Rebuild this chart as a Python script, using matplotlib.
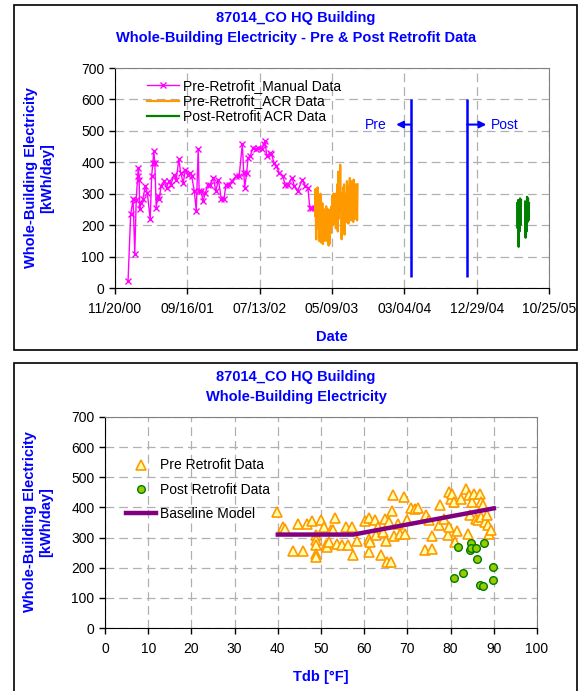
import numpy as np
import pandas as pd
import matplotlib
matplotlib.use('Agg')
import matplotlib.pyplot as plt
import matplotlib.dates as mdates
from matplotlib.patches import Rectangle

plt.rcParams['font.family'] = ['Liberation Sans', 'DejaVu Sans']

BLUE = '#0000FF'
W, H = 579, 691

start = pd.Timestamp('2000-11-20')

# pre-retrofit manual meter readings (days after 11/20/00, kWh/day)
manual_days = [54, 65, 75, 82, 88, 94, 97, 100, 103, 108, 115, 126, 134, 146, 152, 157,
               161, 165, 171, 177, 183, 191, 203, 214, 223, 232, 245, 254, 265, 272,
               283, 292, 303, 311, 318, 329, 337, 345, 349, 357, 365, 375, 385, 395,
               408, 418, 429, 441, 452, 460, 472, 484, 503, 515, 528, 534, 538, 546,
               552, 561, 572, 583, 595, 608, 617, 623, 629, 643, 649, 660, 669, 681,
               695, 706, 718, 734, 744, 757, 777, 789, 800, 808, 818, 834, 841, 854]
manual_kwh = [21, 234, 282, 109, 280, 356, 382, 345, 250, 271, 282, 324, 303, 218, 356, 398,
              435, 398, 255, 292, 282, 324, 340, 319, 340, 329, 361, 345, 411, 367,
              335, 377, 361, 367, 356, 308, 245, 441, 308, 308, 276, 303, 329, 329,
              351, 308, 345, 282, 282, 329, 329, 340, 356, 356, 457, 367, 319, 367,
              414, 420, 446, 441, 446, 441, 457, 467, 420, 430, 425, 398, 388, 367,
              356, 329, 329, 351, 324, 308, 345, 324, 319, 255, 255, 255, 239, 218]

# pre-retrofit ACR logger data, every other day from day 830
acr_pre_start = 830
acr_pre_kwh = [230, 315, 155, 300, 190, 320, 210,
               290, 150, 270, 175, 300, 145, 250,
               190, 270, 140, 230, 160, 250, 150, 220, 170, 260,
               150, 240, 180, 250, 135, 230, 140, 200, 250, 175, 260,
               210, 295, 200, 300, 225, 280, 205, 300, 190, 290,
               240, 330, 180, 370, 220, 355, 250, 392, 260,
               300, 155, 290, 210, 320, 200, 330, 170, 280, 230,
               300, 210, 340, 230, 310, 205, 325, 250, 350, 220, 300,
               215, 340, 250, 320, 210, 345, 240, 310, 220, 330, 240, 300, 215, 330]

# post-retrofit ACR logger data (two short logging periods)
acr_post_days = [1668, 1670, 1672, 1674, 1676, 1678, 1680, 1682, 1684, 1692,
                 1701, 1703, 1705, 1707, 1709, 1711, 1713, 1715, 1717]
acr_post_kwh = [270, 190, 280, 131, 265, 180, 285, 200, 280, np.nan,
                275, 160, 270, 180, 290, 210, 285, 215, 270]

pre_end = pd.Timestamp('2004-04-01')
post_start = pd.Timestamp('2004-11-20')

# scatter vs. dry-bulb temperature
pre_tdb = [39.7, 41.2, 41.6, 43.5, 44.6, 45.9, 46.8, 47.9, 48.9, 48.9, 48.9, 48.9, 48.9,
           50.0, 50.6, 51.1, 51.5, 51.8, 52.2, 52.8, 53.2, 53.6, 54.9, 55.8, 56.2, 57.1,
           57.3, 58.4, 60.1, 61.0, 61.0, 61.2, 61.4, 62.4, 62.7, 63.3, 64.0, 64.4, 64.8,
           65.0, 65.2, 65.7, 66.1, 66.4, 66.7, 66.9, 67.8, 68.2, 69.1, 69.5, 70.0, 70.8,
           71.8, 72.5, 74.1, 74.3, 75.1, 75.6, 75.8, 77.3, 77.5, 78.5, 79.4, 79.6, 79.6,
           80.1, 80.4, 80.9, 81.1, 81.5, 82.4, 83.5, 84.1, 84.3, 84.5, 85.0, 85.4, 85.8,
           86.3, 86.7, 87.0, 87.1, 87.6, 88.0, 88.5, 88.7, 88.8, 89.3]
pre_kwh = [385, 335, 330, 254, 344, 254, 344, 355, 307, 291, 274, 247, 236,
           357, 335, 274, 269, 285, 324, 324, 365, 280, 274, 335, 274, 335,
           243, 288, 354, 252, 296, 365, 285, 357, 307, 335, 243, 318, 363,
           288, 219, 352, 219, 387, 440, 305, 346, 313, 435, 313, 357, 398,
           394, 398, 258, 374, 357, 263, 305, 341, 409, 363, 307, 335, 451,
           427, 446, 418, 285, 321, 429, 462, 313, 440, 374, 418, 446, 363,
           357, 446, 418, 368, 407, 352, 374, 341, 313, 324]

post_tdb = [80.8, 81.6, 82.8, 84.4, 84.7, 84.7, 85.8, 86.0, 86.7, 87.6, 87.7, 89.9, 89.9]
post_kwh = [167, 270, 184, 259, 283, 265, 265, 228, 142, 139, 283, 202, 158]

base_tdb = [40, 57.5, 90]
base_kwh = [310, 310, 397]

date_ticks = [start + pd.Timedelta(days=300 * k) for k in range(7)]


def fig_rect(l, t, r, b):
    return [l / W, 1 - b / H, (r - l) / W, (b - t) / H]


def style_axes(ax):
    for s in ['top', 'right']:
        ax.spines[s].set_color('#808080')
    for s in ['left', 'bottom']:
        ax.spines[s].set_color('black')
    ax.grid(True, color='#B0B0B0', linestyle=(0, (7, 4)), linewidth=0.9)
    ax.set_axisbelow(True)
    ax.tick_params(direction='out', length=4, width=1, labelsize=10, colors='black')


fig = plt.figure(figsize=(W / 100, H / 100), dpi=100)

# panel frames
for (l, t, r, b) in [(14, 5, 577, 350), (14, 363, 577, 700)]:
    fig.patches.append(Rectangle((l / W, 1 - b / H), (r - l) / W, (b - t) / H,
                                 transform=fig.transFigure, fill=False,
                                 edgecolor='black', linewidth=1.2))

# ---- top: time series ----
ax1 = fig.add_axes(fig_rect(115, 68, 549, 288))
manual_dates = start + pd.to_timedelta(manual_days, unit='D')
acr_pre_dates = pd.date_range(start + pd.Timedelta(days=acr_pre_start),
                              periods=len(acr_pre_kwh), freq='2D')
acr_post_dates = start + pd.to_timedelta(acr_post_days, unit='D')

ax1.plot(manual_dates, manual_kwh, color='#FF00FF', marker='x', markersize=5,
         markeredgewidth=1, linewidth=1, label='Pre-Retrofit_Manual Data')
ax1.plot(acr_pre_dates, acr_pre_kwh, color='#FF9900', linewidth=1.6,
         label='Pre-Retrofit_ACR Data')
ax1.plot(acr_post_dates, acr_post_kwh, color='#008000', linewidth=1.6,
         label='Post-Retrofit ACR Data')

ax1.vlines([pre_end, post_start], 35, 600, color=BLUE, linewidth=1.8)
ax1.annotate('', xy=(pre_end - pd.Timedelta(days=62), 520), xytext=(pre_end, 520),
             arrowprops=dict(arrowstyle='-|>', color=BLUE, lw=1.5, mutation_scale=10,
                             shrinkA=0, shrinkB=0))
ax1.annotate('', xy=(post_start + pd.Timedelta(days=79), 520), xytext=(post_start, 520),
             arrowprops=dict(arrowstyle='-|>', color=BLUE, lw=1.5, mutation_scale=10,
                             shrinkA=0, shrinkB=0))
ax1.text(pre_end - pd.Timedelta(days=100), 520, 'Pre', color=BLUE, fontsize=10,
         ha='right', va='center')
ax1.text(post_start + pd.Timedelta(days=98), 520, 'Post', color=BLUE, fontsize=10,
         ha='left', va='center')

ax1.set_xlim(date_ticks[0], date_ticks[-1])
ax1.set_ylim(0, 700)
ax1.set_yticks(range(0, 701, 100))
ax1.set_xticks(date_ticks)
ax1.xaxis.set_major_formatter(mdates.DateFormatter('%m/%d/%y'))
style_axes(ax1)
ax1.tick_params(axis='x', pad=6)
ax1.set_xlabel('Date', color=BLUE, fontsize=10.5, fontweight='bold', labelpad=10)
ax1.legend(loc='upper left', bbox_to_anchor=(0.06, 0.975), frameon=False, fontsize=10,
           handlelength=2.3, handletextpad=0.3, labelspacing=0.1, borderaxespad=0)

fig.text(296 / W, 1 - 18 / H, '87014_CO HQ Building', color=BLUE, fontsize=10.5,
         fontweight='bold', ha='center', va='center')
fig.text(296 / W, 1 - 38 / H, 'Whole-Building Electricity - Pre & Post Retrofit Data',
         color=BLUE, fontsize=10.5, fontweight='bold', ha='center', va='center')
fig.text(39 / W, 1 - 178 / H, 'Whole-Building Electricity\n[kWh/day]', color=BLUE,
         fontsize=10.5, fontweight='bold', rotation=90, ha='center', va='center',
         multialignment='center', linespacing=1.25)

# ---- bottom: energy vs temperature ----
ax2 = fig.add_axes(fig_rect(105, 417, 537, 628))
ax2.plot(pre_tdb, pre_kwh, linestyle='none', marker='^', markersize=7.5,
         markerfacecolor='#FFFFB0', markeredgecolor='#FF9900', markeredgewidth=1.2,
         label='Pre Retrofit Data')
ax2.plot(post_tdb, post_kwh, linestyle='none', marker='o', markersize=5.5,
         markerfacecolor='#99CC00', markeredgecolor='#007A00', markeredgewidth=1,
         label='Post Retrofit Data')
ax2.plot(base_tdb, base_kwh, color='#800080', linewidth=3.2, label='Baseline Model')

ax2.set_xlim(0, 100)
ax2.set_ylim(0, 700)
ax2.set_xticks(range(0, 101, 10))
ax2.set_yticks(range(0, 701, 100))
style_axes(ax2)
ax2.tick_params(axis='x', pad=6)
ax2.set_xlabel('Tdb [°F]', color=BLUE, fontsize=10.5, fontweight='bold', labelpad=10)
ax2.legend(loc='upper left', bbox_to_anchor=(0.035, 0.83), frameon=False, fontsize=10,
           handlelength=2.2, handletextpad=0.3, labelspacing=0.75, borderaxespad=0)

fig.text(296 / W, 1 - 377 / H, '87014_CO HQ Building', color=BLUE, fontsize=10.5,
         fontweight='bold', ha='center', va='center')
fig.text(296 / W, 1 - 397 / H, 'Whole-Building Electricity', color=BLUE, fontsize=10.5,
         fontweight='bold', ha='center', va='center')
fig.text(38 / W, 1 - 522 / H, 'Whole-Building Electricity\n[kWh/day]', color=BLUE,
         fontsize=10.5, fontweight='bold', rotation=90, ha='center', va='center',
         multialignment='center', linespacing=1.25)

fig.savefig('out.png', dpi=100)
